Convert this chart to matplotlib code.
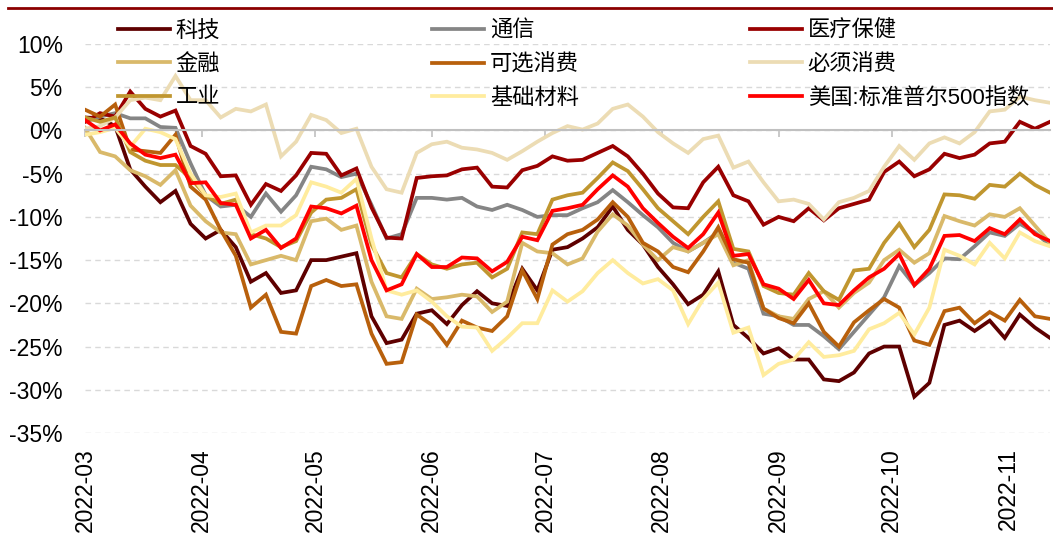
import matplotlib
matplotlib.use('Agg')
import matplotlib.pyplot as plt
import matplotlib.dates as mdates
from matplotlib.lines import Line2D
from matplotlib.ticker import MultipleLocator, FuncFormatter
import pandas as pd

plt.rcParams['font.family'] = ['Liberation Sans', 'Noto Sans CJK SC', 'DejaVu Sans']

# sample dates (one reading every 4 days)
dates = pd.date_range('2022-03-01', periods=65, freq='4D')

tech = [1.5, 1.4, 0.5, -4.5, -6.5, -8.3, -7.0, -10.8, -12.5, -11.5, -13.5, -17.5, -16.5, -18.8, -18.5, -15.0, -15.0,
        -14.6, -14.2, -21.5, -24.6, -24.2, -21.2, -20.8, -22.4, -20.2, -18.6, -20.0, -20.3, -16.0, -18.5, -13.8, -13.5,
        -12.5, -11.2, -8.8, -11.5, -13.2, -15.8, -17.8, -20.1, -19.0, -16.3, -22.5, -24.0, -25.8, -25.2, -26.5, -26.5,
        -28.8, -29.0, -28.0, -25.8, -25.0, -25.0, -30.8, -29.2, -22.5, -22.0, -23.2, -22.0, -24.0, -21.3, -22.8, -24.0]
telecom = [1.0, 1.6, 2.0, 1.4, 1.4, 0.4, 0.3, -3.8, -7.5, -8.8, -8.6, -10.0, -7.3, -9.4, -7.5, -4.2, -4.5,
           -5.4, -5.0, -8.6, -12.5, -12.0, -7.8, -7.8, -8.0, -7.8, -8.8, -9.2, -8.6, -9.2, -10.0, -9.8, -9.8,
           -9.0, -8.3, -6.9, -8.3, -9.8, -11.2, -13.0, -14.0, -13.0, -11.8, -15.3, -16.0, -21.2, -21.5, -22.5, -22.5,
           -23.8, -25.3, -23.3, -21.3, -19.3, -15.7, -17.9, -16.5, -14.8, -14.9, -13.4, -11.8, -12.2, -10.8, -11.8, -13.3]
health = [1.0, 2.0, 1.6, 4.5, 2.5, 1.6, 2.3, -1.8, -2.7, -5.3, -5.2, -8.6, -6.2, -7.0, -5.2, -2.6, -2.7,
          -5.2, -4.4, -8.9, -12.4, -12.5, -5.5, -5.3, -5.2, -4.5, -4.3, -6.5, -6.6, -4.6, -4.1, -3.0, -3.5,
          -3.4, -2.6, -1.8, -3.0, -5.0, -7.3, -8.9, -9.0, -6.0, -4.2, -7.5, -8.2, -10.9, -10.0, -10.5, -9.0,
          -10.4, -9.0, -8.5, -8.0, -4.8, -3.6, -5.3, -4.5, -2.7, -3.2, -2.8, -1.5, -1.3, 1.0, 0.2, 1.0]
finance = [0.3, -2.5, -3.0, -4.6, -5.3, -6.3, -4.6, -8.7, -10.5, -11.8, -12.0, -15.5, -15.0, -14.5, -15.0, -10.5, -10.2,
           -11.5, -11.0, -17.5, -21.5, -21.8, -18.3, -19.5, -19.3, -19.0, -19.2, -21.0, -19.8, -13.0, -14.0, -14.2, -15.5,
           -14.8, -11.7, -9.7, -11.0, -13.2, -15.0, -13.5, -14.0, -13.0, -12.0, -15.6, -15.0, -20.6, -21.5, -21.8, -19.5,
           -18.6, -20.5, -18.8, -17.6, -15.0, -13.8, -15.3, -14.2, -9.9, -10.5, -11.0, -9.7, -10.0, -9.0, -11.0, -13.0]
discretionary = [2.4, 1.6, 3.0, -2.2, -2.4, -2.6, -0.5, -6.5, -8.0, -11.5, -14.5, -20.5, -19.0, -23.3, -23.5, -18.0, -17.3,
                 -18.0, -17.8, -23.5, -27.0, -26.8, -21.3, -22.5, -24.8, -22.0, -22.8, -23.2, -21.5, -16.2, -19.5, -13.2, -12.0,
                 -11.5, -10.3, -8.3, -10.0, -13.0, -14.0, -15.8, -16.4, -14.0, -11.2, -14.9, -15.3, -20.6, -21.7, -22.3, -20.0,
                 -23.3, -25.0, -22.2, -20.8, -19.5, -20.5, -24.3, -24.8, -20.9, -20.5, -22.3, -21.0, -22.0, -19.6, -21.5, -21.8]
staples = [0.2, 0.5, 1.5, 3.5, 3.8, 3.5, 6.3, 3.5, 3.5, 1.5, 2.5, 2.2, 3.0, -3.0, -1.3, 1.8, 1.2,
           -0.3, 0.2, -4.2, -6.8, -7.2, -2.6, -1.6, -1.3, -2.0, -2.2, -2.6, -3.4, -2.4, -1.3, -0.3, 0.5,
           0.1, 0.8, 2.5, 3.0, 1.6, -0.2, -1.5, -2.6, -1.0, -0.6, -4.3, -3.6, -6.0, -8.2, -8.0, -8.5,
           -10.3, -8.3, -7.8, -7.0, -4.2, -1.8, -3.4, -1.5, -0.8, -1.5, -0.2, 2.2, 2.4, 3.9, 3.5, 3.2]
industry = [1.5, 1.0, 1.5, -2.5, -3.5, -4.0, -4.0, -5.5, -7.5, -8.5, -8.0, -12.0, -12.5, -13.5, -12.8, -9.5, -8.0,
            -7.8, -6.8, -13.2, -16.5, -17.0, -14.3, -15.5, -16.0, -15.5, -15.3, -17.0, -16.0, -11.8, -12.0, -8.0, -7.5,
            -7.2, -5.5, -3.7, -4.7, -6.8, -9.0, -10.5, -12.0, -10.0, -8.2, -13.7, -14.0, -18.0, -18.8, -19.0, -16.5,
            -18.6, -19.6, -16.2, -16.0, -13.0, -10.8, -13.5, -11.5, -7.4, -7.5, -7.9, -6.3, -6.5, -5.0, -6.3, -7.2]
materials = [-0.5, -0.2, 0.3, -1.9, 0.2, -0.2, -1.0, -5.0, -7.5, -7.7, -7.3, -11.8, -11.0, -11.0, -9.8, -6.0, -6.5,
             -7.2, -5.6, -12.5, -18.5, -19.0, -18.5, -19.8, -21.5, -22.7, -22.8, -25.5, -24.0, -22.3, -22.3, -18.5, -19.8,
             -18.6, -16.5, -15.0, -16.5, -17.7, -17.2, -18.5, -22.4, -19.5, -17.6, -23.4, -22.8, -28.3, -27.0, -26.5, -24.5,
             -26.2, -26.0, -25.5, -23.0, -22.3, -21.1, -23.6, -20.5, -13.8, -14.5, -15.5, -13.0, -14.8, -11.8, -12.8, -13.4]
spx = [1.2, 0.0, 0.7, -1.5, -2.8, -3.2, -2.8, -6.1, -6.0, -8.4, -8.6, -12.5, -11.5, -13.6, -12.5, -8.8, -9.0,
       -9.6, -8.7, -15.0, -18.5, -17.8, -14.3, -15.8, -15.8, -14.7, -14.8, -16.3, -15.2, -12.3, -12.7, -9.3, -9.0,
       -8.6, -6.8, -5.2, -6.5, -9.0, -10.7, -12.3, -13.6, -12.0, -9.5, -14.5, -14.3, -17.8, -18.3, -19.5, -17.3,
       -20.0, -20.2, -18.5, -17.0, -16.0, -14.3, -17.9, -16.0, -12.2, -12.1, -12.8, -11.3, -12.0, -10.3, -12.0, -12.8]

names = ['科技', '通信', '医疗保健', '金融', '可选消费', '必须消费', '工业', '基础材料', '美国:标准普尔500指数']
series = [tech, telecom, health, finance, discretionary, staples, industry, materials, spx]
colors = ['#5E0000', '#858585', '#990000', '#D9B96A', '#B8600C', '#ECDCB4', '#C0962F', '#FFEC9E', '#FF0000']

fig = plt.figure(figsize=(10.53, 5.36), dpi=100)
ax = fig.add_axes([85 / 1053, 1 - 433 / 536, 965 / 1053, 389 / 536])

lines = []
for name, vals, c in zip(names, series, colors):
    ln, = ax.plot(dates, vals, color=c, lw=2.7, label=name, solid_joinstyle='miter')
    lines.append(ln)

ax.set_xlim(pd.Timestamp('2022-03-01'), pd.Timestamp('2022-11-12'))
ax.set_ylim(-35, 10)
ax.yaxis.set_major_locator(MultipleLocator(5))
ax.yaxis.set_major_formatter(FuncFormatter(lambda v, p: f'{v:.0f}%'))
ax.yaxis.grid(True, linestyle=(0, (4, 3)), color='#D9D9D9', lw=1)
ax.set_axisbelow(True)
for s in ['top', 'left', 'right']:
    ax.spines[s].set_visible(False)
ax.spines['bottom'].set_position(('data', 0))
ax.spines['bottom'].set_color('#C0C0C0')
ax.spines['bottom'].set_linewidth(1.5)
ax.xaxis.set_major_locator(mdates.MonthLocator())
ax.tick_params(axis='x', direction='out', length=5, width=1.2, color='#C0C0C0', labelbottom=False)
ax.tick_params(axis='y', length=0, pad=16, labelsize=16.5)

# month labels stay at the bottom edge
sec = ax.secondary_xaxis('bottom')
sec.xaxis.set_major_locator(mdates.MonthLocator())
sec.xaxis.set_major_formatter(mdates.DateFormatter('%Y-%m'))
sec.spines['bottom'].set_visible(False)
sec.tick_params(length=0, pad=11, labelsize=16.5, labelrotation=90)

# legend: three columns placed like the source
col_x = [118, 432, 750]
for i, x in enumerate(col_x):
    handles = [lines[i], lines[i + 3], lines[i + 6]]
    fig.legend(handles=handles, labels=[h.get_label() for h in handles],
               loc='upper left', bbox_to_anchor=(x / 1053, 1 - 21 / 536),
               frameon=False, borderpad=0, borderaxespad=0,
               handlelength=2.35, handletextpad=0.25, labelspacing=0.55,
               prop={'family': ['Liberation Sans', 'Noto Sans CJK SC'], 'size': 16})

fig.add_artist(Line2D([8 / 1053, 1], [1 - 8 / 536, 1 - 8 / 536], color='#8B0000', lw=2))

fig.savefig('out.png', dpi=100)
